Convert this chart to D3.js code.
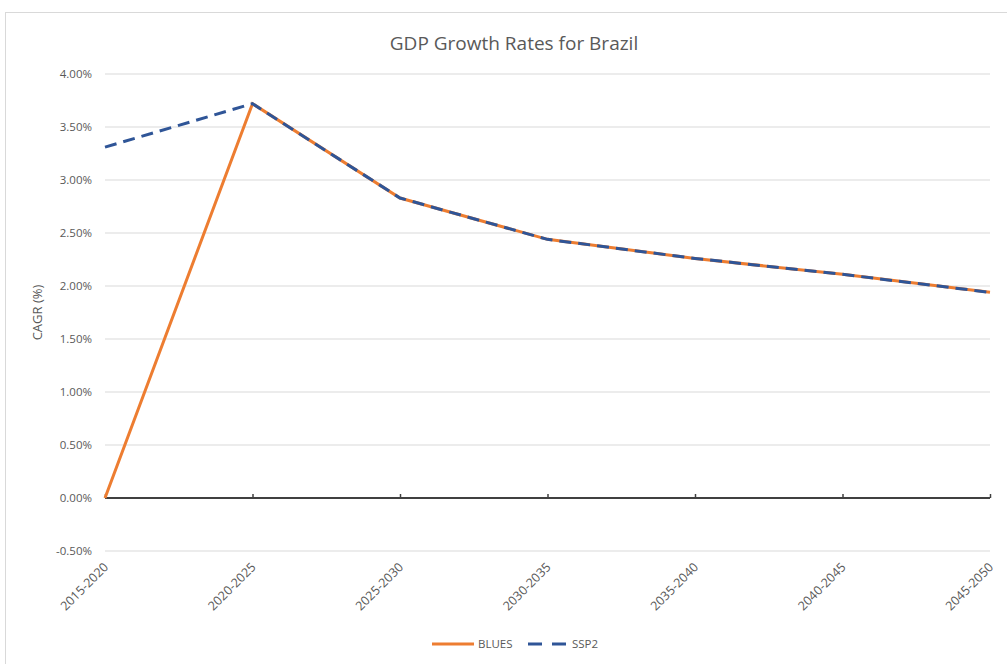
<!DOCTYPE html>
<html>
<head>
<meta charset="utf-8">
<title>GDP Growth Rates for Brazil</title>
<script src="https://cdn.jsdelivr.net/npm/d3@7"></script>
<style>
  body { margin: 0; background: #fff; }
  text { font-family: "Open Sans", "Noto Sans", sans-serif; fill: #595959; }
  .grid line { stroke: #d9d9d9; stroke-width: 1px; }
</style>
</head>
<body>
<script>
// data
var periods = ["2015-2020", "2020-2025", "2025-2030", "2030-2035", "2035-2040", "2040-2045", "2045-2050"];
var blues = [0.00, 3.72, 2.83, 2.44, 2.26, 2.11, 1.94];
var ssp2 = [3.31, 3.72, 2.83, 2.44, 2.26, 2.11, 1.94];
var yTicks = [-0.5, 0, 0.5, 1, 1.5, 2, 2.5, 3, 3.5, 4];

var width = 1007, height = 664;

var svg = d3.select("body").append("svg")
    .attr("width", width)
    .attr("height", height);

// chart frame
svg.append("rect")
    .attr("x", 5.5).attr("y", 12.5)
    .attr("width", 1010).attr("height", 700)
    .attr("fill", "#fff")
    .attr("stroke", "#d9d9d9");

var x = d3.scalePoint()
    .domain(periods)
    .range([105, 990]);

var y = d3.scaleLinear()
    .domain([-0.5, 4])
    .range([551, 74]);

// gridlines
svg.append("g").attr("class", "grid")
    .selectAll("line")
    .data(yTicks.filter(function(d){ return d !== 0; }))
    .enter().append("line")
    .attr("x1", 105).attr("x2", 990)
    .attr("y1", function(d){ return y(d); })
    .attr("y2", function(d){ return y(d); });

// y axis labels (plain hyphen for negatives, like the original)
var yAxis = svg.append("g")
    .attr("transform", "translate(100,0)")
    .call(d3.axisLeft(y).tickValues(yTicks).tickSize(0).tickPadding(8)
        .tickFormat(function(d){ return d.toFixed(2) + "%"; }));
yAxis.select(".domain").remove();
yAxis.selectAll("text").style("font-size", "11.5px").attr("fill", "#595959");

// x axis along zero
var xAxis = svg.append("g")
    .attr("transform", "translate(0," + y(0) + ")")
    .call(d3.axisTop(x).tickSize(4).tickFormat(""));
xAxis.select(".domain").attr("stroke", "#404040").attr("stroke-width", 2)
    .attr("d", "M105,0H990");
xAxis.selectAll(".tick line").attr("stroke", "#404040").attr("stroke-width", 1.5);

// x labels, rotated
svg.append("g").selectAll("text")
    .data(periods)
    .enter().append("text")
    .attr("transform", function(d){ return "translate(" + (x(d) + 4) + ",568) rotate(-45)"; })
    .attr("text-anchor", "end")
    .style("font-size", "12.5px")
    .text(function(d){ return d; });

// axis title
svg.append("text")
    .attr("transform", "translate(42," + y(1.75) + ") rotate(-90)")
    .attr("text-anchor", "middle")
    .style("font-size", "13px")
    .text("CAGR (%)");

// title
svg.append("text")
    .attr("x", 514).attr("y", 50)
    .attr("text-anchor", "middle")
    .style("font-size", "19px")
    .text("GDP Growth Rates for Brazil");

var line = d3.line()
    .x(function(d, i){ return x(periods[i]); })
    .y(function(d){ return y(d); });

svg.append("path")
    .datum(blues)
    .attr("fill", "none")
    .attr("stroke", "#ED7D31")
    .attr("stroke-width", 3)
    .attr("d", line);

svg.append("path")
    .datum(ssp2)
    .attr("fill", "none")
    .attr("stroke", "#2F5597")
    .attr("stroke-width", 3)
    .attr("stroke-dasharray", "12,7")
    .attr("d", line);

// legend
var legend = svg.append("g").attr("transform", "translate(0,644)");
legend.append("line")
    .attr("x1", 432).attr("x2", 474).attr("y1", 0).attr("y2", 0)
    .attr("stroke", "#ED7D31").attr("stroke-width", 3);
legend.append("text")
    .attr("x", 478).attr("y", 4)
    .style("font-size", "11.5px")
    .text("BLUES");
legend.append("line")
    .attr("x1", 528).attr("x2", 566).attr("y1", 0).attr("y2", 0)
    .attr("stroke", "#2F5597").attr("stroke-width", 3)
    .attr("stroke-dasharray", "14,10");
legend.append("text")
    .attr("x", 572).attr("y", 4)
    .style("font-size", "11.5px")
    .text("SSP2");
</script>
</body>
</html>
